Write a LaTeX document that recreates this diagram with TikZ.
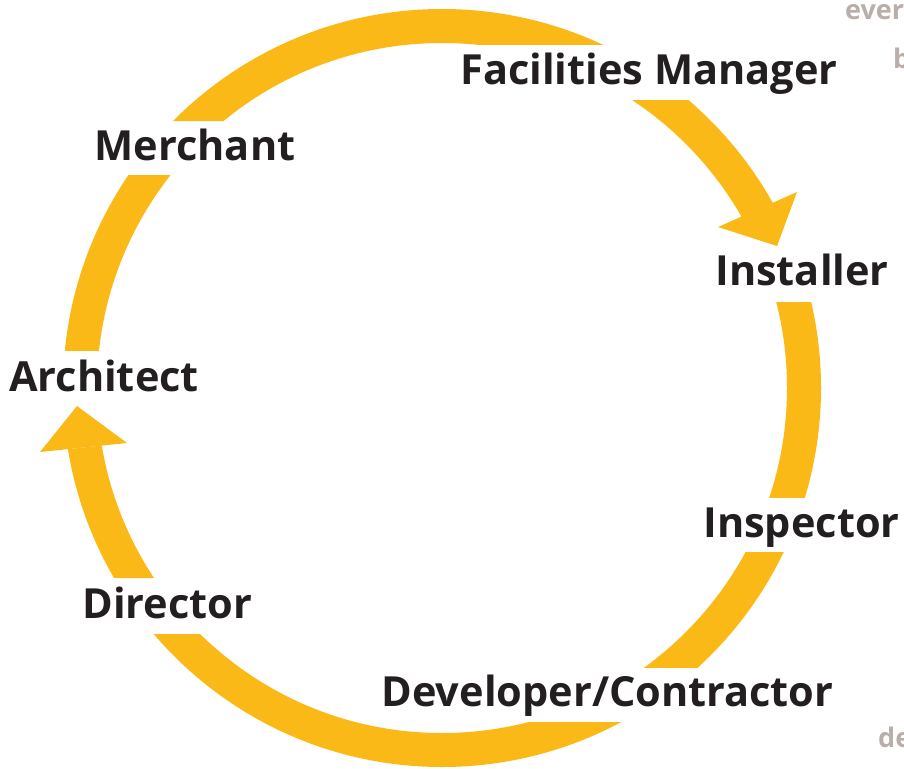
\documentclass[tikz,border=0pt]{standalone}
\usepackage{fontspec}
\setmainfont{Open Sans}
\definecolor{ringyellow}{HTML}{FBB917}
\definecolor{lbl}{HTML}{231F20}
\definecolor{ghost}{HTML}{B9AEAA}
\begin{document}
\begin{tikzpicture}[x=1pt,y=-1pt,
  lab/.style={font=\fontsize{41.5}{41.5}\selectfont\bfseries, text=lbl, inner sep=0pt, anchor=base},
  ghosttxt/.style={font=\fontsize{27}{27}\selectfont\bfseries, text=ghost, inner sep=0pt, anchor=base west},
  headfill/.style={fill=ringyellow}]
\useasboundingbox (0,0) rectangle (904,768);
\def\ringband{\fill[ringyellow, even odd rule] (442,388) circle[radius=379pt] (442,388) circle[radius=345pt];}
% top arc: Merchant -> Facilities Manager
\begin{scope}
\clip (0,0) -- (904,0) -- (904,45) -- (442,45) -- (442,121) -- (0,121) -- cycle;
\ringband
\end{scope}
% Facilities Manager -> Installer
\begin{scope}
\clip (600,100) -- (904,100) -- (904,146.4) -- (600,279) -- cycle;
\ringband
\end{scope}
\fill[headfill] (718,227) -- (797,192) -- (777,246) -- cycle;
% Installer -> Inspector
\begin{scope}
\clip (600,302) rectangle (904,497);
\ringband
\end{scope}
% Inspector -> Developer/Contractor
\begin{scope}
\clip (500,552) rectangle (904,667);
\ringband
\end{scope}
% Developer/Contractor -> Director
\begin{scope}
\clip (0,634) -- (442,634) -- (442,722) -- (904,722) -- (904,768) -- (0,768) -- cycle;
\ringband
\end{scope}
% Director -> Architect
\begin{scope}
\clip (0,456.1) -- (300,425.1) -- (300,578) -- (0,578) -- cycle;
\ringband
\end{scope}
\fill[headfill] (40,452) -- (127,443) -- (77,406) -- cycle;
% Architect -> Merchant
\begin{scope}
\clip (0,175) rectangle (300,350);
\ringband
\end{scope}
% labels
\node[lab] (fm) at (649,84) {Facilities Manager};
\node[lab] (mer) at (195,160) {Merchant};
\node[lab] (ins) at (802,285) {Installer};
\node[lab] (arc) at (104,391) {Architect};
\node[lab] (isp) at (801.5,537) {Inspector};
\node[lab] (dir) at (167.5,618) {Director};
\node[lab] (dev) at (607.5,706) {Developer/Contractor};
% partial grey text at right edge
\node[ghosttxt] (g1) at (845,20) {ever};
\node[ghosttxt] (g2) at (893,68) {b};
\node[ghosttxt] (g3) at (878,747) {de};
\end{tikzpicture}
\end{document}
